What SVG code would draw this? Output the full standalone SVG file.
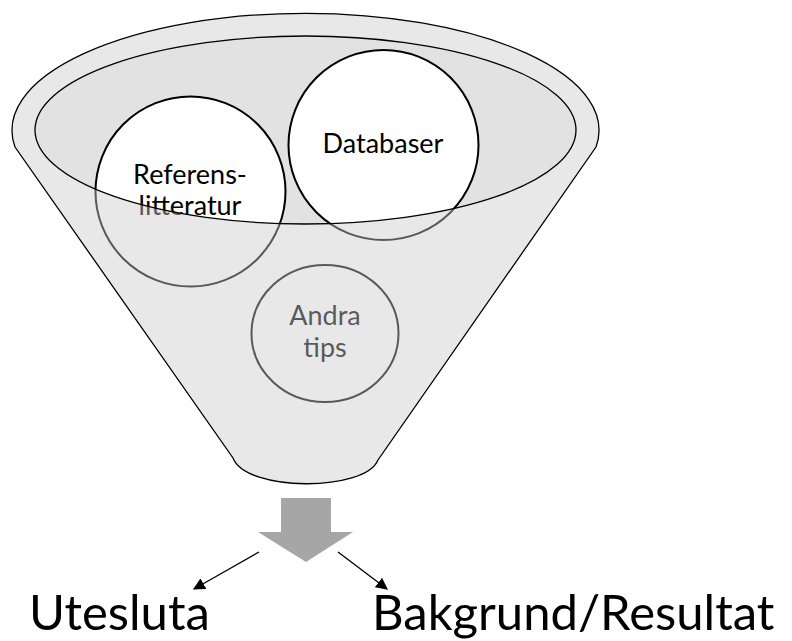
<svg xmlns="http://www.w3.org/2000/svg" width="792" height="641" viewBox="0 0 792 641">
  <style>
    .lbl { font-family: Lato, "Open Sans", "Liberation Sans", sans-serif; text-anchor: middle; fill: #000; }
    .small { font-size: 27px; }
    .big { font-family: Lato, "Open Sans", "Liberation Sans", sans-serif; font-size: 49px; fill: #000; }
    .circ { fill: #ffffff; stroke: #000; stroke-width: 2; }
    .edge { fill: none; stroke: #000; stroke-width: 1.3; }
  </style>
  <defs>
    <path id="funnelShape" d="M 15,147 A 293.5 117 0 1 1 596,147 L 378,460 C 365,492 246,492 233,458 Z"/>
    <marker id="tri" viewBox="0 0 10 10" refX="9" refY="5" markerWidth="12" markerHeight="12" markerUnits="userSpaceOnUse" orient="auto">
      <path d="M0,0 L10,5 L0,10 Z" fill="#000"/>
    </marker>
  </defs>
  <rect width="792" height="641" fill="#ffffff"/>

  <g id="funnel-back">
    <use href="#funnelShape" fill="#ffffff"/>
    <ellipse cx="305.5" cy="130" rx="270.5" ry="94" fill="#e2e2e2"/>
  </g>

  <g id="node-databaser">
    <circle class="circ" cx="383.5" cy="145" r="95"/>
    <text class="lbl small" x="383" y="153">Databaser</text>
  </g>

  <g id="node-referens">
    <circle class="circ" cx="190.5" cy="191.5" r="95"/>
    <text class="lbl small" x="190" y="184">Referens-</text>
    <text class="lbl small" x="190" y="215">litteratur</text>
  </g>

  <g id="node-andra">
    <ellipse class="circ" cx="325" cy="333.5" rx="73.5" ry="68.5"/>
    <text class="lbl small" x="325" y="325">Andra</text>
    <text class="lbl small" x="325" y="357">tips</text>
  </g>

  <g id="funnel-front">
    <path d="M 15,147 A 293.5 117 0 1 1 596,147 L 378,460 C 365,492 246,492 233,458 Z M 35,130 A 270.5 94 0 1 0 576,130 A 270.5 94 0 1 0 35,130 Z" fill="#cacaca" fill-opacity="0.44" fill-rule="evenodd"/>
    <use href="#funnelShape" class="edge"/>
    <ellipse class="edge" cx="305.5" cy="130" rx="270.5" ry="94"/>
  </g>

  <g id="block-arrow">
    <polygon points="281,498 331,498 331,532 353,532 306,562 258,532 281,532" fill="#a6a6a6"/>
  </g>

  <g id="connectors">
    <line x1="259" y1="552" x2="194" y2="589" stroke="#000" stroke-width="1.3" marker-end="url(#tri)"/>
    <line x1="338" y1="552" x2="387" y2="589" stroke="#000" stroke-width="1.3" marker-end="url(#tri)"/>
  </g>

  <g id="node-utesluta">
    <text class="big" x="29" y="630">Utesluta</text>
  </g>

  <g id="node-bakgrund">
    <text class="big" x="372" y="630">Bakgrund/Resultat</text>
  </g>
</svg>
